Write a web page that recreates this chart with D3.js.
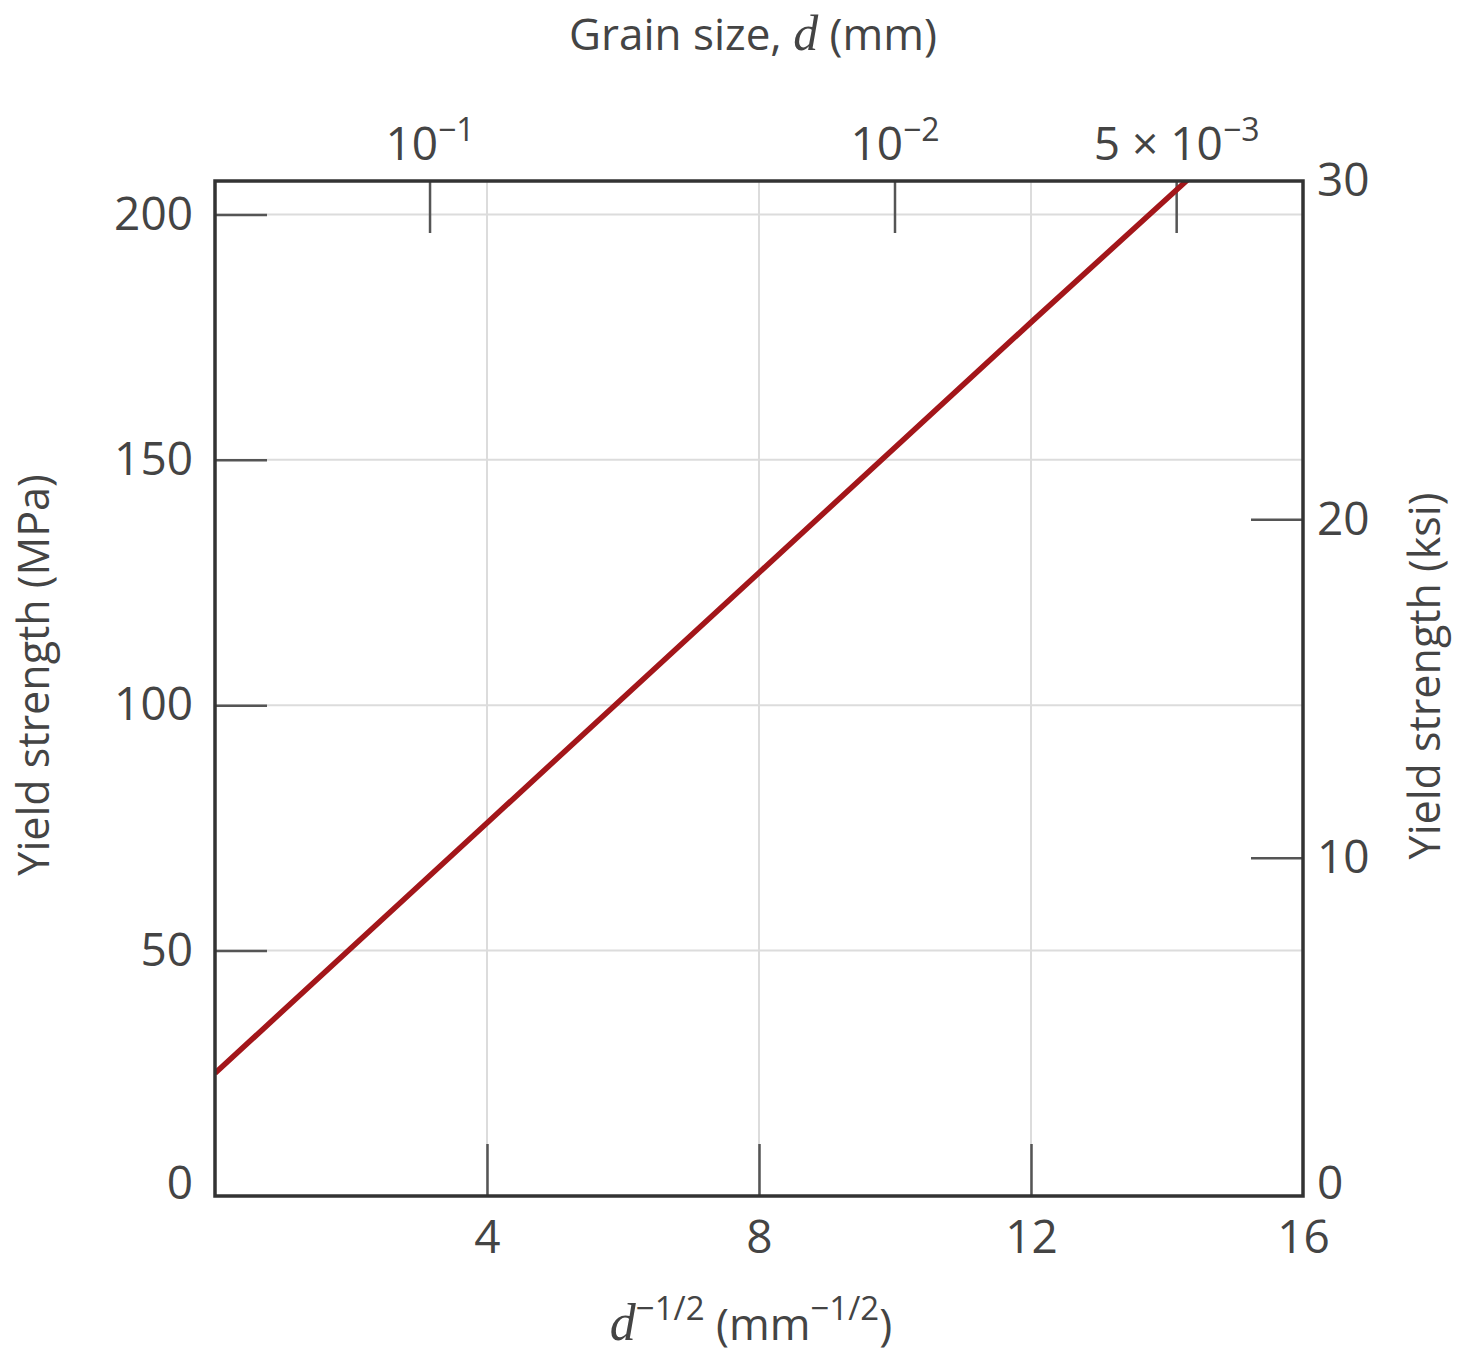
<!DOCTYPE html>
<html>
<head>
<meta charset="utf-8">
<script src="https://cdn.jsdelivr.net/npm/d3@7"></script>
<style>
  body { margin: 0; background: #fff; }
  text { font-family: "Open Sans", "DejaVu Sans", sans-serif; fill: #444; }
</style>
</head>
<body>
<svg id="chart" width="1460" height="1354"></svg>
<script>
// data
let invRootD = [0, 4, 8, 12, 14.3];        // d^-1/2 (mm^-1/2)
let yieldMPa = [25, 76, 127, 178, 207];    // yield strength (MPa)

let bottomTicks = [4, 8, 12, 16];
let leftTicks = [0, 50, 100, 150, 200];
let rightTicks = [0, 10, 20, 30];
let grainSizes = [1e-1, 1e-2, 5e-3];       // d (mm) on top axis
let grainLabels = [['10', '−1'], ['10', '−2'], ['5 × 10', '−3']];

let plotLeft = 215, plotRight = 1303, plotTop = 181, plotBottom = 1196;

let xScale = d3.scaleLinear().domain([0, 16]).range([plotLeft, plotRight]);
let yScale = d3.scaleLinear().domain([0, 206.8]).range([plotBottom, plotTop]);
let ksiScale = d3.scaleLinear().domain([0, 30]).range([plotBottom, plotTop]);

let svg = d3.select('#chart');

// grid
svg.append('g').selectAll('line')
    .data([4, 8, 12])
    .enter().append('line')
    .attr('x1', d => xScale(d)).attr('x2', d => xScale(d))
    .attr('y1', plotTop).attr('y2', plotBottom)
    .attr('stroke', '#dcdcdc').attr('stroke-width', 2);

svg.append('g').selectAll('line')
    .data([50, 100, 150, 200])
    .enter().append('line')
    .attr('x1', plotLeft).attr('x2', plotRight)
    .attr('y1', d => yScale(d)).attr('y2', d => yScale(d))
    .attr('stroke', '#dcdcdc').attr('stroke-width', 2);

// axes with inward ticks
let tickLen = 52;
let axisStyle = g => {
  g.select('.domain').remove();
  g.selectAll('.tick line').attr('stroke', '#555').attr('stroke-width', 2.5);
  g.selectAll('.tick text').style('font-size', '46px').attr('fill', '#444');
};

// the zero labels sit a little above the bottom frame
let liftZero = g => g.selectAll('.tick').filter(d => d === 0).select('text').attr('y', -12);

svg.append('g')
    .attr('transform', `translate(0,${plotBottom})`)
    .call(d3.axisBottom(xScale).tickValues(bottomTicks).tickSizeInner(-tickLen).tickSizeOuter(0).tickPadding(24))
    .call(axisStyle)
    .call(g => g.selectAll('.tick').filter(d => d === 16).select('line').remove());

svg.append('g')
    .attr('transform', `translate(${plotLeft},0)`)
    .call(d3.axisLeft(yScale).tickValues(leftTicks).tickSizeInner(-tickLen).tickSizeOuter(0).tickPadding(22))
    .call(axisStyle)
    .call(liftZero)
    .call(g => g.selectAll('.tick').filter(d => d === 0).select('line').remove());

svg.append('g')
    .attr('transform', `translate(${plotRight},0)`)
    .call(d3.axisRight(ksiScale).tickValues(rightTicks).tickSizeInner(-tickLen).tickSizeOuter(0).tickPadding(14))
    .call(axisStyle)
    .call(liftZero)
    .call(g => g.selectAll('.tick').filter(d => d === 0 || d === 30).select('line').remove());

// top axis: grain size d, placed at d^-1/2
let topG = svg.append('g');
topG.selectAll('line')
    .data(grainSizes)
    .enter().append('line')
    .attr('x1', d => xScale(Math.pow(d, -0.5))).attr('x2', d => xScale(Math.pow(d, -0.5)))
    .attr('y1', plotTop).attr('y2', plotTop + tickLen)
    .attr('stroke', '#555').attr('stroke-width', 2.5);

topG.selectAll('text')
    .data(grainSizes)
    .enter().append('text')
    .attr('x', d => xScale(Math.pow(d, -0.5)))
    .attr('y', 160)
    .attr('text-anchor', 'middle')
    .style('font-size', '46px')
    .each(function(d, i) {
      let t = d3.select(this);
      t.append('tspan').text(grainLabels[i][0]);
      t.append('tspan').attr('dy', -19).style('font-size', '32px').text(grainLabels[i][1]);
    });

// line
let lineGen = d3.line()
    .x((d, i) => xScale(invRootD[i]))
    .y(d => yScale(d));

svg.append('clipPath').attr('id', 'plotClip')
    .append('rect').attr('x', plotLeft).attr('y', plotTop)
    .attr('width', plotRight - plotLeft).attr('height', plotBottom - plotTop);

svg.append('path')
    .attr('d', lineGen(yieldMPa))
    .attr('clip-path', 'url(#plotClip)')
    .attr('fill', 'none')
    .attr('stroke', '#a3161a')
    .attr('stroke-width', 5.5);

// frame
svg.append('rect')
    .attr('x', plotLeft).attr('y', plotTop)
    .attr('width', plotRight - plotLeft).attr('height', plotBottom - plotTop)
    .attr('fill', 'none').attr('stroke', '#333').attr('stroke-width', 3.5);

// titles
let topTitle = svg.append('text')
    .attr('x', 753).attr('y', 50)
    .attr('text-anchor', 'middle')
    .style('font-size', '44px');
topTitle.append('tspan').text('Grain size, ');
topTitle.append('tspan').style('font-family', '"Liberation Serif", serif').style('font-style', 'italic').style('font-size', '50px').text('d');
topTitle.append('tspan').text(' (mm)');

let bottomTitle = svg.append('text')
    .attr('x', 751).attr('y', 1340)
    .attr('text-anchor', 'middle')
    .style('font-size', '44px');
bottomTitle.append('tspan').style('font-family', '"Liberation Serif", serif').style('font-style', 'italic').style('font-size', '52px').text('d');
bottomTitle.append('tspan').attr('dy', -20).style('font-size', '33px').text('−1/2');
bottomTitle.append('tspan').attr('dy', 20).text(' (mm');
bottomTitle.append('tspan').attr('dy', -20).style('font-size', '33px').text('−1/2');
bottomTitle.append('tspan').attr('dy', 20).text(')');

svg.append('text')
    .attr('transform', 'translate(49,675) rotate(-90)')
    .attr('text-anchor', 'middle')
    .style('font-size', '43px')
    .text('Yield strength (MPa)');

svg.append('text')
    .attr('transform', 'translate(1440,676) rotate(-90)')
    .attr('text-anchor', 'middle')
    .style('font-size', '43px')
    .text('Yield strength (ksi)');
</script>
</body>
</html>
